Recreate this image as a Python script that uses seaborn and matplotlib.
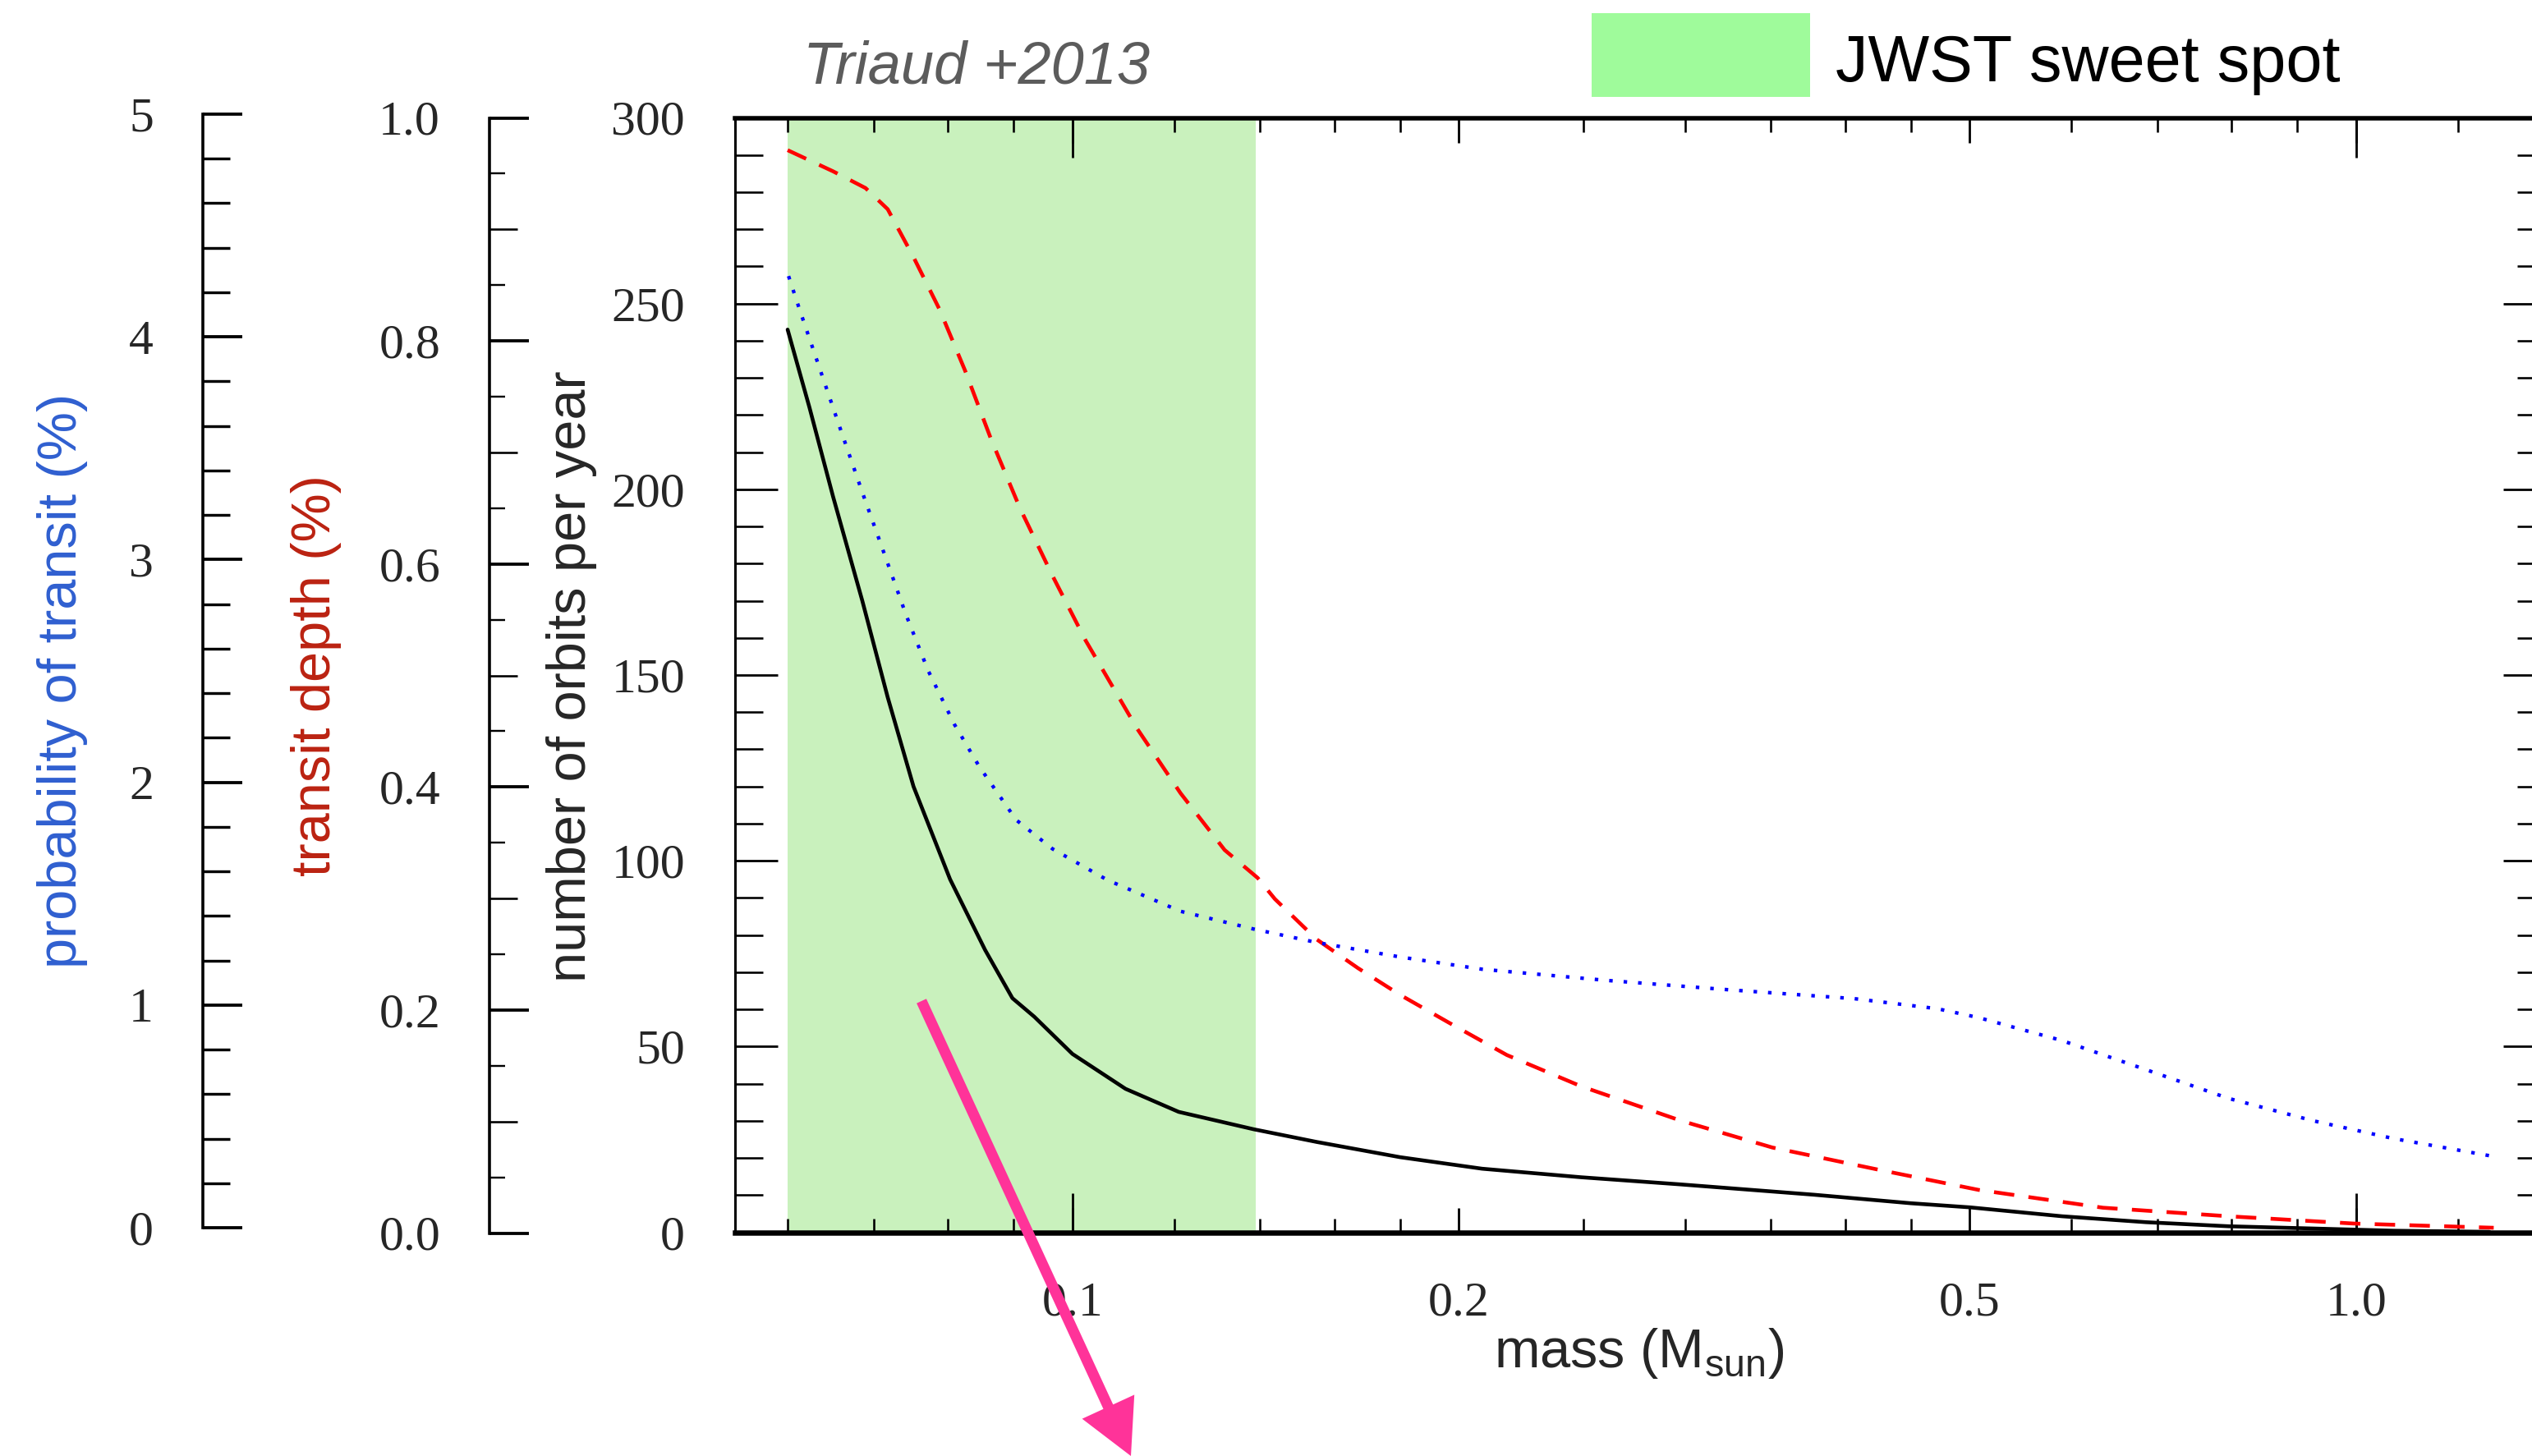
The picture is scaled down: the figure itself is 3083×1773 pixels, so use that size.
import matplotlib
matplotlib.use("Agg")
import matplotlib.pyplot as plt
import numpy as np
import pandas as pd
import seaborn as sns
from matplotlib.patches import FancyArrow, Rectangle
from matplotlib.transforms import IdentityTransform
from matplotlib.ticker import FixedLocator, FixedFormatter, MultipleLocator, NullFormatter, NullLocator

# ---- data -------------------------------------------------------------
# number of orbits per year (black, solid)
mass_orbits = [0.060, 0.0624, 0.0651, 0.0686, 0.0718, 0.0752, 0.0803, 0.0855, 0.0898,
               0.0934, 0.100, 0.110, 0.121, 0.1385, 0.155, 0.180, 0.2085, 0.249, 0.297,
               0.378, 0.45, 0.50, 0.59, 0.686, 0.796, 0.926, 1.07, 1.27]
orbits = [243, 222, 198, 170, 144, 120, 95, 76, 63,
          58, 48, 38.6, 32.4, 27.7, 24.3, 20.2, 17.1, 14.8, 12.9,
          10.1, 7.8, 6.7, 4.3, 2.7, 1.6, 1.0, 0.4, 0.1]

# transit depth in % (red, dashed)
mass_depth = [0.060, 0.0651, 0.069, 0.0718, 0.0752, 0.0788, 0.0825, 0.0864, 0.091, 0.0965,
              0.1024, 0.1123, 0.1214, 0.1314, 0.1394, 0.1438, 0.1549, 0.1669, 0.180, 0.1965,
              0.218, 0.249, 0.298, 0.351, 0.425, 0.508, 0.635, 0.796, 0.995, 1.28]
depth = [0.971, 0.952, 0.937, 0.918, 0.875, 0.828, 0.773, 0.712, 0.650, 0.589,
         0.531, 0.452, 0.394, 0.343, 0.318, 0.299, 0.263, 0.237, 0.213, 0.188,
         0.159, 0.131, 0.100, 0.076, 0.056, 0.038, 0.022, 0.0143, 0.0078, 0.004]

# probability of transit in % (blue, dotted)
mass_prob = [0.0601, 0.0613, 0.0636, 0.0659, 0.0686, 0.0713, 0.0742, 0.0772, 0.0809, 0.0846,
             0.0904, 0.0965, 0.1065, 0.1214, 0.1385, 0.155, 0.180, 0.2085, 0.2606, 0.326,
             0.4065, 0.4717, 0.508, 0.590, 0.6855, 0.796, 0.926, 1.07, 1.28]
prob = [4.29, 4.14, 3.87, 3.61, 3.32, 3.05, 2.77, 2.52, 2.28, 2.09,
        1.85, 1.72, 1.58, 1.44, 1.36, 1.30, 1.235, 1.18, 1.13, 1.087,
        1.048, 1.003, 0.963, 0.86, 0.73, 0.60, 0.50, 0.42, 0.34]

# JWST sweet spot in stellar mass
jwst_range = [0.06, 0.139]

x_major = [0.1, 0.2, 0.5, 1.0]
x_major_labels = ["0.1", "0.2", "0.5", "1.0"]
x_long = [0.1, 1.0]
x_minor = [0.06, 0.07, 0.08, 0.09, 0.12, 0.14, 0.16, 0.18, 0.25, 0.3, 0.35,
           0.4, 0.45, 0.6, 0.7, 0.8, 0.9, 1.2]

# ---- style ------------------------------------------------------------
sns.set_style("ticks")
plt.rcParams["font.family"] = ["Liberation Sans", "DejaVu Sans"]
plt.rcParams["mathtext.fontset"] = "custom"
plt.rcParams["mathtext.rm"] = "Liberation Sans"

W, H, DPI = 3083, 1773, 100
fig = plt.figure(figsize=(W / DPI, H / DPI), dpi=DPI)
fig.patch.set_facecolor("white")


def fx(px):
    return px / W


def fy(py):
    return 1 - py / H


def pt(px):
    return px * 72.0 / DPI


SERIF = "Liberation Serif"
TICK_FS = 43
LABEL_FS = 48

# ---- main axes (orbits per year) --------------------------------------
left_px, top_px, bot_px = 895, 143.5, 1500.5
rect = [fx(left_px), fy(bot_px), 1 - fx(left_px), (bot_px - top_px) / H]
ax = fig.add_axes(rect)
ax.set_xscale("log")
xlim = (0.0546, 1.371)
ax.set_xlim(*xlim)
ax.set_ylim(0, 300)
ax.set_facecolor("white")

ax.axvspan(jwst_range[0], jwst_range[1], color="#c9f1bd", lw=0, zorder=0)

df_orb = pd.DataFrame({"mass": mass_orbits, "orbits": orbits})
sns.lineplot(data=df_orb, x="mass", y="orbits", ax=ax, color="black",
             lw=pt(4.6), legend=False, zorder=3)

ax.xaxis.set_major_locator(FixedLocator(x_major))
ax.xaxis.set_major_formatter(FixedFormatter(x_major_labels))
ax.xaxis.set_minor_locator(FixedLocator(x_minor))
ax.xaxis.set_minor_formatter(NullFormatter())
ax.yaxis.set_major_locator(MultipleLocator(50))
ax.yaxis.set_minor_locator(MultipleLocator(10))

ax.tick_params(axis="x", which="major", direction="in", top=True, bottom=True,
               length=pt(30), width=pt(2.8), pad=pt(60), labelsize=TICK_FS,
               labelfontfamily=SERIF, color="black")
ax.tick_params(axis="x", which="minor", direction="in", top=True, bottom=True,
               length=pt(17), width=pt(2.6), color="black")
ax.tick_params(axis="y", which="major", direction="in", left=True, right=False,
               length=pt(52), width=pt(2.8), pad=pt(61), labelsize=TICK_FS,
               labelfontfamily=SERIF, color="black")
ax.tick_params(axis="y", which="minor", direction="in", left=True, right=False,
               length=pt(34), width=pt(2.6), color="black")

for side, w in [("left", 3), ("top", 5.5), ("bottom", 6.5)]:
    ax.spines[side].set_linewidth(pt(w))
    ax.spines[side].set_color("black")
ax.spines["right"].set_visible(False)

ax.set_xlabel("mass (M$_\\mathregular{sun}$)", fontsize=LABEL_FS)
ax.xaxis.set_label_coords(fx(1996), fy(1648), transform=fig.transFigure)
ax.xaxis.label.set_va("center")

ax.set_ylabel("number of orbits per year", fontsize=LABEL_FS)
ax.yaxis.set_label_coords(fx(696), fy(824), transform=fig.transFigure)
ax.yaxis.label.set_va("center")

# extra tick tier: long decade ticks and the right-hand y ticks
ov = fig.add_axes(rect, frameon=False, label="tick-tier")
ov.set_xscale("log")
ov.set_xlim(*xlim)
ov.set_ylim(0, 300)
ov.xaxis.set_major_locator(FixedLocator(x_long))
ov.xaxis.set_minor_locator(NullLocator())
ov.yaxis.set_major_locator(MultipleLocator(50))
ov.yaxis.set_minor_locator(MultipleLocator(10))
ov.tick_params(axis="x", which="major", direction="in", top=True, bottom=True,
               length=pt(48), width=pt(2.8), labelbottom=False, color="black")
ov.tick_params(axis="y", which="major", direction="in", left=False, right=True,
               length=pt(35), width=pt(2.8), labelleft=False, labelright=False,
               color="black")
ov.tick_params(axis="y", which="minor", direction="in", left=False, right=True,
               length=pt(18), width=pt(2.6), color="black")
ov.patch.set_visible(False)

# ---- transit depth curve (own scale) ----------------------------------
ax_d = ax.twinx()
ax_d.set_ylim(0, 1.0)
ax_d.set_xlim(*xlim)
df_dep = pd.DataFrame({"mass": mass_depth, "depth": depth})
sns.lineplot(data=df_dep, x="mass", y="depth", ax=ax_d, color="#ff0000",
             lw=pt(4.6), legend=False)
ax_d.lines[-1].set_linestyle((0, (5.4, 3.8)))
ax_d.axis("off")

# ---- probability of transit curve (own scale) -------------------------
ax_p = ax.twinx()
ax_p.set_ylim(0, 5)
ax_p.set_xlim(*xlim)
df_prob = pd.DataFrame({"mass": mass_prob, "prob": prob})
sns.lineplot(data=df_prob, x="mass", y="prob", ax=ax_p, color="#0000ff",
             lw=pt(4.3), legend=False)
ax_p.lines[-1].set_linestyle((0, (1, 3.1)))
ax_p.axis("off")


# ---- stand-alone scale axes on the left --------------------------------
def scale_axis(x_px, top, bot, lim, major, minor, labels, label, color, label_x,
               label_y, mid=None):
    a = fig.add_axes([fx(x_px), fy(bot), 0.02, (bot - top) / H])
    a.set_ylim(*lim)
    a.patch.set_visible(False)
    for s in ["top", "right", "bottom"]:
        a.spines[s].set_visible(False)
    a.spines["left"].set_linewidth(pt(3.6))
    a.spines["left"].set_color("black")
    a.set_xticks([])
    a.yaxis.set_major_locator(FixedLocator(major))
    a.yaxis.set_major_formatter(FixedFormatter(labels))
    a.yaxis.set_minor_locator(FixedLocator(minor))
    a.tick_params(axis="y", which="major", direction="in", length=pt(48),
                  width=pt(3.8), pad=pt(60), labelsize=TICK_FS,
                  labelfontfamily=SERIF, color="black")
    a.tick_params(axis="y", which="minor", direction="in", length=pt(33),
                  width=pt(3.4), color="black")
    a.set_ylabel(label, fontsize=LABEL_FS, color=color)
    a.yaxis.set_label_coords(fx(label_x), fy(label_y), transform=fig.transFigure)
    a.yaxis.label.set_va("center")
    if mid is not None:
        b = fig.add_axes([fx(x_px), fy(bot), 0.02, (bot - top) / H],
                         frameon=False, label=label + " mid")
        b.set_ylim(*lim)
        b.patch.set_visible(False)
        b.set_xticks([])
        b.yaxis.set_major_locator(FixedLocator(mid))
        b.yaxis.set_minor_locator(NullLocator())
        b.tick_params(axis="y", which="major", direction="in", length=pt(34),
                      width=pt(2.6), labelleft=False, color="black")
        a.tick_params(axis="y", which="minor", length=pt(19), width=pt(2.4))
    return a


scale_axis(247, 139, 1495, (0, 5), [0, 1, 2, 3, 4, 5],
           [v for v in np.round(np.arange(0, 5.01, 0.2), 2) if v % 1 != 0],
           ["0", "1", "2", "3", "4", "5"],
           "probability of transit (%)", "#2f5fd0", 76, 829)

depth_major = [0.0, 0.2, 0.4, 0.6, 0.8, 1.0]
depth_mid = [0.1, 0.3, 0.5, 0.7, 0.9]
depth_minor = [0.05, 0.15, 0.25, 0.35, 0.45, 0.55, 0.65, 0.75, 0.85, 0.95]
scale_axis(596, 143.5, 1501.5, (0, 1.0), depth_major, depth_minor,
           ["0.0", "0.2", "0.4", "0.6", "0.8", "1.0"],
           "transit depth (%)", "#bb2211", 385, 823, mid=depth_mid)

# ---- header annotations -----------------------------------------------
fig.text(fx(978), fy(102), "Triaud +2013", fontsize=52, style="italic",
         color="#5c5c5c", va="baseline", ha="left")

# key swatch for the shaded JWST band
fig.add_artist(Rectangle((fx(1938), fy(118)), fx(2204 - 1938), (118 - 16) / H,
                         transform=fig.transFigure, facecolor="#9ffb9b",
                         edgecolor="none"))
fig.text(fx(2235), fy(99), "JWST sweet spot", fontsize=57, color="black",
         va="baseline", ha="left")

# ---- pointer arrow ----------------------------------------------------
start = (1122, H - 1219)
tip = (1377, H - 1773)
arrow = FancyArrow(start[0], start[1], tip[0] - start[0], tip[1] - start[1],
                   width=13, head_width=70, head_length=66,
                   length_includes_head=True, color="#ff3399", lw=0,
                   transform=IdentityTransform(), zorder=20)
fig.add_artist(arrow)

fig.savefig("out.png", dpi=DPI, facecolor="white")
